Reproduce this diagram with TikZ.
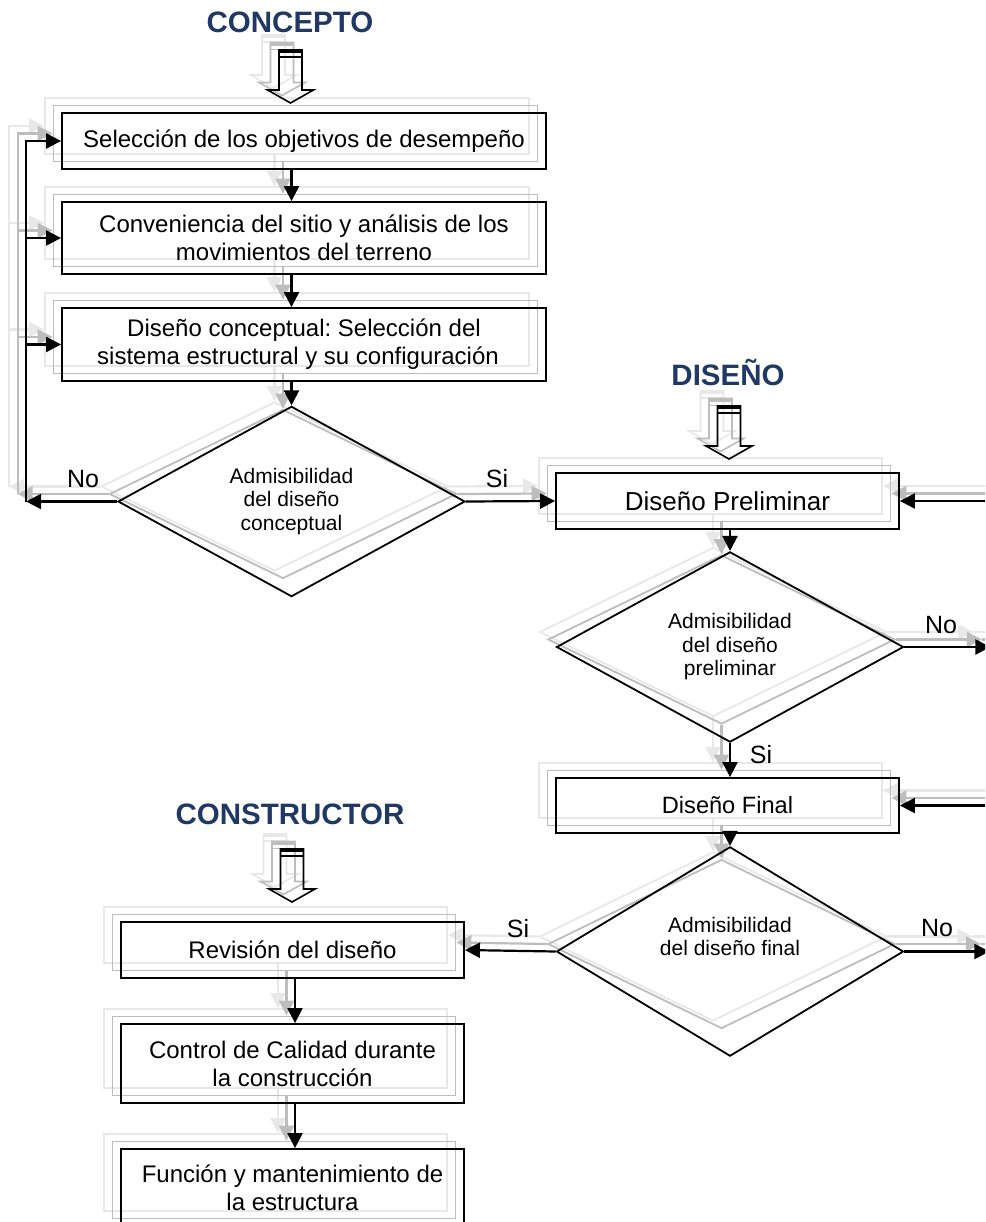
\documentclass[tikz,border=0pt]{standalone}
\usepackage{fontspec}
\setmainfont{Liberation Sans}
\frenchspacing
\usetikzlibrary{shapes.geometric,arrows.meta,calc}
\definecolor{titleblue}{RGB}{31,56,100}
\newif\ifghost
\newcommand\tx[1]{\ifghost\else#1\fi}
\tikzset{
  box/.style={draw, rectangle, line width=1.8pt, inner sep=0pt, align=center,
    minimum width=343pt, font=\fontsize{24}{28}\selectfont},
  widebox/.style={box, minimum width=484pt},
  dec/.style={draw, diamond, line width=1.8pt, inner sep=0pt, align=center,
    minimum width=347pt, minimum height=169pt, font=\fontsize{21}{23.5}\selectfont},
  conn/.style={line width=2.2pt, -{Triangle[length=15pt,width=15pt]}},
  plainline/.style={line width=2.2pt},
  lbl/.style={font=\fontsize{25}{28}\selectfont, anchor=base},
  ttl/.style={font=\fontsize{29.5}{32}\selectfont\bfseries, text=titleblue, anchor=base},
  hollow/.pic={
    \draw[line width=1.6pt, line join=miter] (0,0) -- (-23,-13) -- (-11.5,-13) -- (-11.5,-53)
      -- (11.5,-53) -- (11.5,-13) -- (23,-13) -- cycle;
    \draw[line width=3.5pt] (-11.5,-51.5) -- (11.5,-51.5);
    \draw[line width=1.2pt] (-11.5,-46) -- (11.5,-46);
  },
}
\newcommand\skel{%
  % CONCEPTO column
  \node[widebox, minimum height=56pt] (b1) at (304,141) {\tx{Selección de los objetivos de desempeño}};
  \node[widebox, minimum height=72pt] (b2) at (304,238) {\tx{Conveniencia del sitio y análisis de los\\movimientos del terreno}};
  \node[widebox, minimum height=73pt] (b3) at (304,344.5) {\tx{Diseño conceptual: Selección del\\sistema estructural y su configuración\hspace*{12pt}}};
  \node[dec] (d1) at (291.5,501.5) {\tx{Admisibilidad\\del diseño\\conceptual}};
  \coordinate (ha1) at (290.5,103);
  \pic at (ha1) {hollow};
  \draw[conn] (b1.south -| d1.north) -- (b2.north -| d1.north);
  \draw[conn] (b2.south -| d1.north) -- (b3.north -| d1.north);
  \draw[conn] (b3.south -| d1.north) -- (d1.north);
  \coordinate (fb) at ([xshift=-91pt]d1.west);
  \draw[conn] (d1.west) -- (fb);
  \draw[conn, line join=miter] (fb) |- (b1.west);
  \draw[conn] (fb |- b2.west) -- (b2.west);
  \draw[conn] (fb |- b3.west) -- (b3.west);
  % DISENO column
  \node[box, minimum height=56pt, font=\fontsize{26}{30}\selectfont] (dp) at (727.5,501) {\tx{Diseño Preliminar}};
  \node[dec] (d2) at (730,647) {\tx{Admisibilidad\\del diseño\\preliminar}};
  \node[box, minimum height=55pt, font=\fontsize{23.6}{28}\selectfont] (df) at (727.5,805.5) {\tx{Diseño Final}};
  \node[dec] (d3) at (730,951.5) {\tx{Admisibilidad\\del diseño final\\\strut}};
  \coordinate (ha2) at (729,459);
  \pic at (ha2) {hollow};
  \draw[conn] (d1.east) -- (dp.west);
  \draw[conn] (dp.south -| d2.north) -- (d2.north);
  \draw[conn] (d2.south) -- (df.north -| d2.south);
  \draw[conn] (df.south -| d3.north) -- (d3.north);
  \coordinate (r1) at ([xshift=86pt]d2.east);
  \coordinate (r2) at ([xshift=85pt]d3.east);
  \coordinate (r1v) at ([xshift=150pt]d2.east);
  \coordinate (r2v) at ([xshift=150pt]d3.east);
  \draw[conn] (d2.east) -- (r1);
  \draw[plainline] (r1) -- (r1v);
  \draw[conn, line join=miter] (r1v) |- (dp.east);
  \draw[conn] (d3.east) -- (r2);
  \draw[plainline] (r2) -- (r2v);
  \draw[conn, line join=miter] (r2v) |- (df.east);
  % CONSTRUCTOR column
  \node[box, minimum height=56pt] (c1) at (292.5,950) {\tx{Revisión del diseño}};
  \node[box, minimum height=79pt] (c2) at (292.5,1063.5) {\tx{Control de Calidad durante\\la construcción}};
  \node[box, minimum height=77pt] (c3) at (292.5,1187.5) {\tx{Función y mantenimiento de\\la estructura}};
  \coordinate (ha3) at (292,902);
  \pic at (ha3) {hollow};
  \draw[conn] (d3.west) -- (c1.east);
  \draw[conn] ([xshift=2.5pt]c1.south) -- ([xshift=2.5pt]c2.north);
  \draw[conn] ([xshift=2.5pt]c2.south) -- ([xshift=2.5pt]c3.north);
}
\begin{document}
\begin{tikzpicture}[x=1pt, y=-1pt]
  \useasboundingbox (0,0) rectangle (985,1222);
  \fill[white] (0,0) rectangle (985,1222);
  \clip (0,0) rectangle (985,1222);
  % faint offset copies
  \ghosttrue
  \begin{scope}[shift={(-17,-15)}, color=black!9]
    \skel
  \end{scope}
  \begin{scope}[shift={(-8.5,-7.5)}, color=black!26]
    \skel
  \end{scope}
  \ghostfalse
  % main drawing
  \skel
  % titles
  \node[ttl] (t1) at (290,33) {CONCEPTO};
  \node[ttl] (t2) at (728,385) {DISEÑO};
  \node[ttl] (t3) at (290,824) {CONSTRUCTOR};
  % branch labels
  \node[lbl] (l1) at (83,487) {No};
  \node[lbl] (l2) at (497,487) {Si};
  \node[lbl] (l3) at (941,633) {No};
  \node[lbl] (l4) at (761,763) {Si};
  \node[lbl] (l5) at (518,937) {Si};
  \node[lbl] (l6) at (937,936) {No};
\end{tikzpicture}
\end{document}
